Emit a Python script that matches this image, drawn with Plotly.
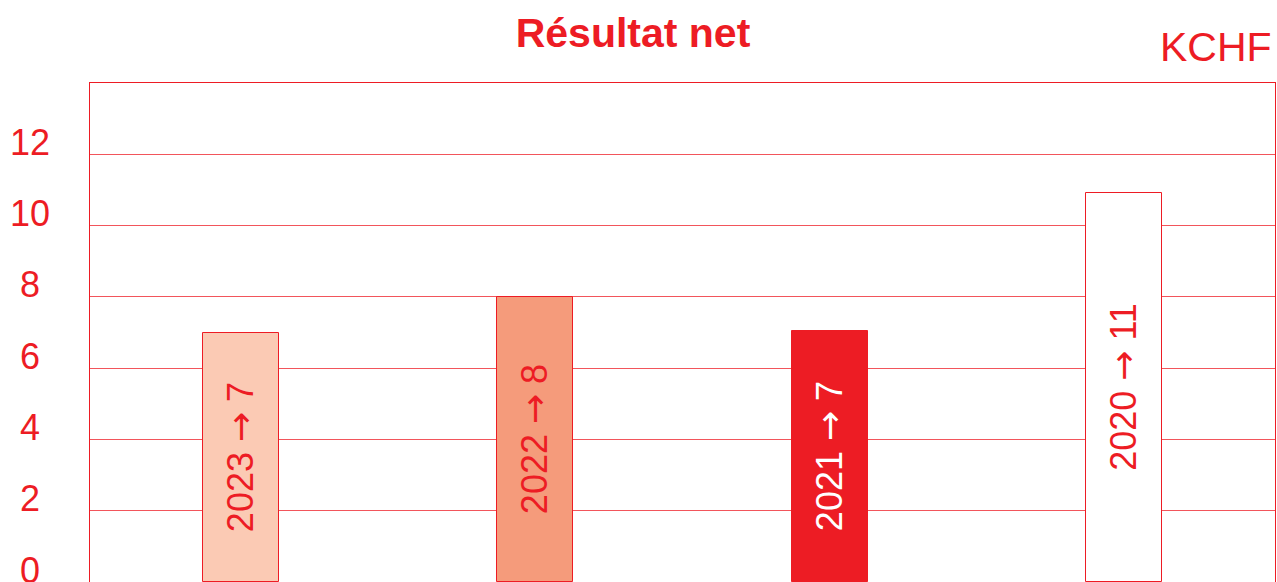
import plotly.graph_objects as go

years = ["2023", "2022", "2021", "2020"]
values = [7.0, 8.0, 7.05, 10.9]
labels = ["7", "8", "7", "11"]
fill_colors = ["#FBCAB4", "#F59B7B", "#ED1C24", "#FFFFFF"]
text_colors = ["#ED1C24", "#ED1C24", "#FFFFFF", "#ED1C24"]
y_ticks = [0, 2, 4, 6, 8, 10, 12]

RED = "#ED1C24"
FONT = "Liberation Sans, Arial, Helvetica, sans-serif"
ARROW = '<span style="font-family:DejaVu Sans">\u2192</span>'

x_pos = list(range(len(years)))
bar_text = [f"{y} {ARROW} {l}" for y, l in zip(years, labels)]

fig = go.Figure()
fig.add_trace(go.Bar(
    x=x_pos, y=values, width=0.258,
    marker=dict(color=fill_colors, line=dict(color=RED, width=1)),
    text=bar_text, textposition="inside", textangle=-90,
    insidetextanchor="middle",
    textfont=dict(family=FONT, size=36, color=text_colors),
    hoverinfo="skip", showlegend=False,
))

annotations = []
for t in y_ticks:
    annotations.append(dict(
        xref="paper", x=0, xshift=-60, xanchor="center",
        yref="y", y=t, yshift=12, yanchor="middle",
        text=str(t), showarrow=False,
        font=dict(family=FONT, size=36, color=RED),
    ))
annotations.append(dict(
    xref="paper", x=1, xanchor="right", xshift=-1,
    yref="paper", y=1, yanchor="middle", yshift=36,
    text="KCHF", showarrow=False,
    font=dict(family=FONT, size=41, color=RED),
))

fig.update_layout(
    width=1277, height=582,
    margin=dict(l=90, r=2, t=83, b=0, autoexpand=False),
    paper_bgcolor="white", plot_bgcolor="white",
    title=dict(text="<b>Résultat net</b>", x=633 / 1277, xanchor="center",
               xref="container", yref="container", y=1 - 33 / 582,
               yanchor="middle",
               font=dict(family=FONT, size=41, color=RED)),
    annotations=annotations,
    bargap=0,
)
fig.update_xaxes(range=[-0.514, 3.514], showticklabels=False, showgrid=False,
                 zeroline=False, showline=True, mirror=True, linecolor=RED,
                 linewidth=1, ticks="", fixedrange=True)
fig.update_yaxes(range=[0, 14], tickvals=y_ticks, showticklabels=False,
                 showgrid=True, gridcolor="rgba(237,28,36,0.75)", gridwidth=1,
                 zeroline=False, showline=True, mirror=True, linecolor=RED,
                 linewidth=1, ticks="", fixedrange=True)

fig.write_html(
    "out.html",
    config={"displayModeBar": False},
    post_script="document.body.style.margin='0';document.body.style.overflow='hidden';",
)
